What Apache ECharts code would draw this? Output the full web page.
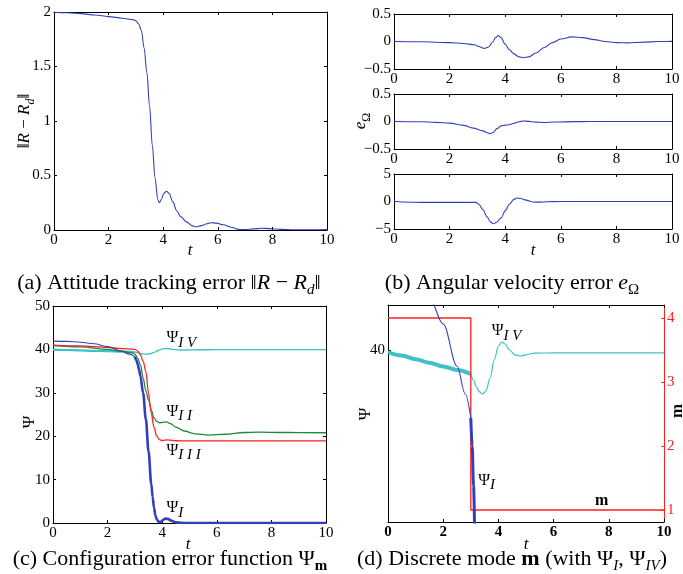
<!DOCTYPE html>
<html><head><meta charset="utf-8">
<script src="https://cdn.jsdelivr.net/npm/echarts@6/dist/echarts.min.js"></script>
<style>html,body{margin:0;padding:0;background:#fff}#c{width:683px;height:574px}</style>
</head><body><div id="c"></div><script>
// ---------- data ----------
const xTicks = [0, 2, 4, 6, 8, 10];
// (a) attitude tracking error
const tNorm = [0,0.5,1,1.5,2,2.5,2.9,3.0,3.1,3.2,3.3,3.4,3.5,3.6,3.7,3.8,3.86,3.93,4.02,4.12,4.22,4.35,4.5,4.65,4.85,5.05,5.2,5.4,5.6,5.75,5.95,6.2,6.5,6.75,7.0,7.3,7.6,7.9,8.3,8.8,9.4,10];
const normR = [1.998,1.993,1.985,1.972,1.958,1.943,1.93,1.92,1.89,1.83,1.67,1.45,1.14,0.78,0.48,0.28,0.25,0.28,0.335,0.355,0.335,0.26,0.175,0.12,0.075,0.04,0.03,0.04,0.058,0.067,0.063,0.048,0.025,0.006,0.004,0.01,0.016,0.013,0.006,0.002,0.002,0.003];
// (b) angular velocity error components
const tW1 = [0,1,2,2.5,2.9,3.05,3.25,3.4,3.55,3.65,3.75,3.85,4.0,4.15,4.3,4.5,4.65,4.85,5.1,5.4,5.7,6.0,6.4,6.8,7.2,7.6,8.0,8.4,9.0,9.5,10];
const eW1 = [0,-0.005,-0.02,-0.035,-0.06,-0.09,-0.125,-0.1,-0.01,0.07,0.11,0.07,-0.05,-0.15,-0.22,-0.28,-0.295,-0.28,-0.21,-0.11,-0.02,0.045,0.085,0.07,0.035,0.0,-0.02,-0.025,-0.012,0.0,0.005];
const tW2 = [0,1,1.5,2,2.5,2.85,3.2,3.35,3.47,3.58,3.7,3.85,4.0,4.15,4.3,4.5,4.65,4.85,5.1,5.4,5.8,6.5,7,10];
const eW2 = [0,-0.005,-0.015,-0.03,-0.07,-0.12,-0.17,-0.205,-0.22,-0.195,-0.13,-0.08,-0.065,-0.06,-0.035,-0.005,0.01,0.003,-0.012,-0.018,-0.01,-0.003,0,0];
const tW3 = [0,0.1,0.3,1,2,2.95,3.05,3.2,3.35,3.47,3.57,3.68,3.85,4.0,4.15,4.3,4.42,4.55,4.75,5.0,5.2,5.5,6,10];
const eW3 = [0.1,0,-0.1,-0.15,-0.15,-0.15,-0.5,-1.5,-2.8,-3.7,-4.05,-3.8,-3.0,-1.7,-0.5,0.35,0.65,0.55,0.25,-0.1,-0.12,-0.05,0,0];
// (c),(d) configuration error functions
const tPsiI = [0,0.5,1,1.5,2,2.5,2.8,3.0,3.05,3.1,3.15,3.2,3.3,3.4,3.5,3.6,3.65,3.7,3.75,3.8,3.88,3.95,4.05,4.12,4.2,4.35,4.5,4.7,5,10];
const psiI = [41.9,41.85,41.65,41.3,40.65,39.6,38.9,38.3,37.6,36.6,35.4,33.9,30.0,24.0,16.5,9.0,6.0,3.5,1.8,0.8,0.25,0.3,0.8,1.05,0.95,0.5,0.15,0.03,0,0];
const tPsiII = [0,1,2,2.5,2.9,3.0,3.1,3.2,3.3,3.4,3.5,3.6,3.7,3.8,3.9,4.0,4.15,4.3,4.5,4.8,5.2,5.7,6.3,7.0,7.5,8.5,10];
const psiII = [40.9,40.6,40.0,39.6,39.2,38.9,38.0,36.5,33.5,30.5,28.3,26.0,24.2,23.4,23.1,23.2,23.3,22.9,22.1,21.2,20.55,20.25,20.45,20.85,20.95,20.85,20.8];
const tPsiIII = [0,1,2,2.5,3.0,3.05,3.1,3.2,3.3,3.4,3.5,3.55,3.6,3.7,3.8,3.9,4.0,4.2,4.5,5,10];
const psiIII = [41.0,40.8,40.45,40.2,40.0,39.85,39.6,38.8,37.3,35.0,30.0,27.6,25.3,22.0,20.0,19.2,19.0,19.15,18.95,18.9,18.9];
const tPsiIV = [0,0.5,1,1.5,2,2.5,3.0,3.1,3.2,3.3,3.43,3.55,3.7,3.85,4.0,4.12,4.25,4.4,4.6,4.8,5.0,5.3,6,10];
const psiIV = [39.95,39.86,39.77,39.68,39.59,39.5,39.4,39.25,39.08,38.96,38.9,38.98,39.3,39.75,40.1,40.2,40.15,40.0,39.88,39.85,39.88,39.92,39.93,39.93];
const tSwitch = 3;
// (d) discrete mode
const tMode = [0, 3, 3, 10];
const mode = [4, 4, 1, 1];
const psiTicksD = [40];
const modeTicks = [1, 2, 3, 4];

// ---------- chart ----------
const FONT = 'Liberation Serif';
const BLUE = '#3040b8', GREEN = '#1e8a3c', RED = '#ff2020', CYAN = '#3ec0c6';
const TICK = 15;
const zip = (t, v) => t.map((x, i) => [x, v[i]]);
const before = (t, v, s) => zip(t, v).filter(p => p[0] <= s);
const after = (t, v, s) => zip(t, v).filter(p => p[0] >= s);
const minus = v => String(v).replace('-', '\u2212');

const grids = [
  {left: 54, top: 12, width: 273, height: 218},
  {left: 394, top: 14, width: 278, height: 55},
  {left: 394, top: 94, width: 278, height: 55},
  {left: 394, top: 174, width: 278, height: 55},
  {left: 53, top: 306, width: 273, height: 217},
  {left: 388, top: 305, width: 276, height: 217}
];

const lbl = (size, extra) => Object.assign({color: '#000', fontFamily: FONT, fontSize: size}, extra || {});
function xAx(gi, pos, showLabel, bold) {
  return {
    type: 'value', gridIndex: gi, position: pos, min: 0, max: 10, interval: 2,
    axisLine: {show: true, onZero: false, lineStyle: {color: '#000', width: 1}},
    axisTick: {show: true, inside: true, length: 3, lineStyle: {color: '#000'}},
    axisLabel: Object.assign({show: showLabel, margin: 3}, lbl(TICK, bold ? {fontWeight: 'bold'} : {})),
    splitLine: {show: false}
  };
}
function yAx(gi, pos, min, max, interval, showLabel) {
  return {
    type: 'value', gridIndex: gi, position: pos, min: min, max: max, interval: interval,
    axisLine: {show: true, onZero: false, lineStyle: {color: '#000', width: 1}},
    axisTick: {show: true, inside: true, length: 3, lineStyle: {color: '#000'}},
    axisLabel: Object.assign({show: showLabel, margin: 3, formatter: minus}, lbl(TICK)),
    splitLine: {show: false}
  };
}

const xAxes = [], yAxes = [];
// a
xAxes.push(xAx(0, 'bottom', true), xAx(0, 'top', false));
yAxes.push(yAx(0, 'left', 0, 2, 0.5, true), yAx(0, 'right', 0, 2, 0.5, false));
// b1..b3
[[0.5, 0.5], [0.5, 0.5], [5, 5]].forEach((r, k) => {
  const gi = k + 1;
  xAxes.push(xAx(gi, 'bottom', true), xAx(gi, 'top', false));
  yAxes.push(yAx(gi, 'left', -r[0], r[0], r[1], true), yAx(gi, 'right', -r[0], r[0], r[1], false));
});
// c
xAxes.push(xAx(4, 'bottom', true), xAx(4, 'top', false));
yAxes.push(yAx(4, 'left', 0, 50, 10, true), yAx(4, 'right', 0, 50, 10, false));
// d
xAxes.push(xAx(5, 'bottom', true, true), xAx(5, 'top', false));
const yD = yAx(5, 'left', 35.7, 41.125, null, true);
delete yD.interval;
yD.axisTick.customValues = psiTicksD;
yD.axisLabel.customValues = psiTicksD;
const mD = yAx(5, 'right', 0.8125, 4.203, null, true);
delete mD.interval;
mD.axisLine.lineStyle.color = RED;
mD.axisTick.lineStyle.color = RED;
mD.axisTick.customValues = modeTicks;
mD.axisLabel.customValues = modeTicks;
mD.axisLabel.color = RED;
yAxes.push(yD, mD);

function line(xi, yi, data, color, width, smooth) {
  return {
    type: 'line', xAxisIndex: xi, yAxisIndex: yi, data: data, showSymbol: false, symbol: 'none',
    smooth: smooth === undefined ? 0.35 : smooth, smoothMonotone: 'x', clip: true,
    lineStyle: {color: color, width: width}, animation: false, silent: true
  };
}

const series = [
  line(0, 0, zip(tNorm, normR), BLUE, 1.1),
  line(2, 2, zip(tW1, eW1), BLUE, 1.1),
  line(4, 4, zip(tW2, eW2), BLUE, 1.1),
  line(6, 6, zip(tW3, eW3), BLUE, 1.1),
  // c
  line(8, 8, before(tPsiIV, psiIV, tSwitch), CYAN, 2.2),
  line(8, 8, after(tPsiIV, psiIV, tSwitch), CYAN, 1.3),
  line(8, 8, zip(tPsiII, psiII), GREEN, 1.3),
  line(8, 8, zip(tPsiIII, psiIII), RED, 1.3),
  line(8, 8, before(tPsiI, psiI, tSwitch), BLUE, 1.1),
  line(8, 8, after(tPsiI, psiI, tSwitch), BLUE, 2.6),
  // d
  line(10, 10, before(tPsiIV, psiIV, tSwitch), CYAN, 4),
  line(10, 10, after(tPsiIV, psiIV, tSwitch), CYAN, 1.2),
  line(10, 11, zip(tMode, mode), RED, 1.3, false),
  line(10, 10, before(tPsiI, psiI, tSwitch), BLUE, 1.1),
  line(10, 10, after(tPsiI, psiI, tSwitch), BLUE, 3)
];

const chart = echarts.init(document.getElementById('c'), null, {renderer: 'canvas'});
chart.setOption({
  backgroundColor: '#fff', animation: false,
  grid: grids.map(g => Object.assign({containLabel: false, show: false}, g)),
  xAxis: xAxes, yAxis: yAxes, series: series
});

// ---------- texts ----------
const main = (sz, extra) => Object.assign({fontFamily: FONT, fontSize: sz, color: '#000', lineHeight: sz + 7}, extra || {});
const subS = (sz, extra) => Object.assign({fontFamily: FONT, fontSize: sz, color: '#000', lineHeight: sz, verticalAlign: 'bottom'}, extra || {});
const capRich = {
  n: main(22), i: main(22, {fontStyle: 'italic'}), b: main(22, {fontWeight: 'bold'}),
  s: subS(15, {fontStyle: 'italic'}), sr: subS(15), sb: subS(15, {fontWeight: 'bold'})
};
const psiRich = {
  p: main(16, {lineHeight: 24}), s: subS(15, {fontStyle: 'italic'})
};
function txt(x, y, text, rich, opts) {
  opts = opts || {};
  return {
    type: 'text', x: x, y: y, rotation: opts.rot || 0, silent: true,
    style: {text: text, rich: rich, align: opts.align || 'center', verticalAlign: 'middle',
      fill: opts.color || '#000', font: (opts.font || '15px') + ' ' + FONT}
  };
}
const R90 = Math.PI / 2;
const g = [];
// captions
g.push(txt(169, 283, '{n|(a) Attitude tracking error ‖}{i|R}{n| − }{i|R}{s|d}{n|‖}', capRich));
g.push(txt(512, 283, '{n|(b) Angular velocity error }{i|e}{sr|Ω}', capRich));
g.push(txt(170, 559, '{n|(c) Configuration error function Ψ}{sb|m}', capRich));
g.push(txt(512, 559, '{n|(d) Discrete mode }{b|m}{n| (with Ψ}{s|I}{n|, Ψ}{s|IV}{n|)}', capRich));
// axis names
const axRich = {n: main(17), i: main(17, {fontStyle: 'italic'}), s: subS(12, {fontStyle: 'italic'}), sr: subS(12)};
g.push(txt(25, 121, '{n|‖}{i|R}{n| − }{i|R}{s|d}{n|‖}', axRich, {rot: R90}));
g.push(txt(190, 251, '{i|t}', axRich));
g.push(txt(361, 121, '{i|e}{sr|Ω}', axRich, {rot: R90}));
g.push(txt(533, 251, '{i|t}', axRich));
g.push(txt(30, 422, '{n|Ψ}', axRich, {rot: R90}));
g.push(txt(188, 545, '{i|t}', axRich));
g.push(txt(366, 414, '{n|Ψ}', axRich, {rot: R90}));
g.push(txt(678, 411, '{m|m}', {m: main(17, {fontWeight: 'bold', color: RED})}, {rot: R90}));
g.push(txt(526, 545, '{i|t}', axRich));
// in-plot labels (data coordinates)
function at(xi, yi, pt) { return chart.convertToPixel({xAxisIndex: xi, yAxisIndex: yi}, pt); }
const labC = [[4.16, 42.6, 'I V'], [4.16, 25.6, 'I I'], [4.16, 16.7, 'I I I'], [4.16, 3.4, 'I']];
labC.forEach(l => { const p = at(8, 8, [l[0], l[1]]); g.push(txt(p[0], p[1], '{p|Ψ}{s|' + l[2] + '}', psiRich, {align: 'left'})); });
const labD = [[3.76, 40.47, 'I V'], [3.27, 36.73, 'I']];
labD.forEach(l => { const p = at(10, 10, [l[0], l[1]]); g.push(txt(p[0], p[1], '{p|Ψ}{s|' + l[2] + '}', psiRich, {align: 'left'})); });
const pm = at(10, 11, [7.74, 1.145]);
g.push(txt(pm[0], pm[1], '{m|m}', {m: main(16, {fontWeight: 'bold'})}));
chart.setOption({graphic: g});
</script></body></html>
